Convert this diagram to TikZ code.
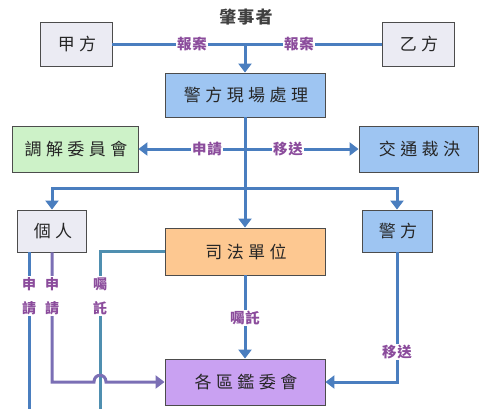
\documentclass[tikz,border=0pt]{standalone}
\usepackage{fontspec}
\usetikzlibrary{arrows.meta}
\newfontfamily\cjk[LetterSpace=26]{Noto Sans CJK TC}
\newfontfamily\cjklbl[LetterSpace=6]{Noto Sans CJK TC}
\definecolor{lnblue}{HTML}{4A7EBF}
\definecolor{lnpurple}{HTML}{7B6FB5}
\definecolor{lnteal}{HTML}{4F8FB0}
\definecolor{fgray}{HTML}{EBEBF3}
\definecolor{fblue}{HTML}{9EC5F2}
\definecolor{fgreen}{HTML}{CDF2C8}
\definecolor{forange}{HTML}{FDC891}
\definecolor{fpurple}{HTML}{C9A1F2}
\definecolor{lblcol}{HTML}{8B4C9C}
\tikzset{
  box/.style={draw=black!70, line width=0.9pt, inner sep=0pt, text=black!85,
    font=\cjk\fontsize{17}{17}\selectfont},
  conn/.style={draw=lnblue, line width=3pt},
  arr/.style={conn, -{Triangle[width=13pt,length=9pt]}},
  lbl/.style={fill=white, inner sep=1.5pt, text=lblcol, font=\cjklbl\bfseries\fontsize{14.5}{14.5}\selectfont},
  vlbl/.style={lbl, align=center, font=\cjklbl\bfseries\fontsize{14}{24}\selectfont, inner sep=1pt}
}
\begin{document}
\begin{tikzpicture}[x=1pt,y=-1pt]
\useasboundingbox (0,0) rectangle (490,408);
% boxes
\node[box, fill=fgray, minimum width=72pt, minimum height=44pt] (A) at (76,44) {\hspace{2pt}甲方};
\node[box, fill=fgray, minimum width=72pt, minimum height=44pt] (B) at (418,44) {\hspace{2pt}乙方};
\node[box, fill=fblue, minimum width=160pt, minimum height=44pt] (P) at (245,95) {\hspace{2pt}警方現場處理};
\node[box, fill=fgreen, minimum width=126pt, minimum height=46pt] (M) at (75,149) {\hspace{2pt}調解委員會};
\node[box, fill=fblue, minimum width=119pt, minimum height=46pt] (T) at (418.5,149) {\hspace{2pt}交通裁決};
\node[box, fill=fgray, minimum width=69pt, minimum height=42pt] (I) at (52,231) {\hspace{2pt}個人};
\node[box, fill=fblue, minimum width=70pt, minimum height=42pt] (Q) at (397,231) {\hspace{2pt}警方};
\node[box, fill=forange, minimum width=160pt, minimum height=47pt] (J) at (245,251.5) {\hspace{2pt}司法單位};
\node[box, fill=fpurple, minimum width=160pt, minimum height=46pt] (K) at (245,382) {\hspace{2pt}各區鑑委會};
% title
\node[font=\cjklbl\bfseries\fontsize{17}{17}\selectfont, text=black!75] (title) at (246,17) {肇事者};
% coordinates
\coordinate (top) at (245,44);
\coordinate (split) at (245,188);
\coordinate (e1) at (29,412);
\coordinate (e2) at (100,412);
\coordinate (h1) at (94,382);
\coordinate (h2) at (106,382);
% connectors
\draw[conn] (A.east) -- (B.west);
\draw[arr] (top) -- (P.north);
\draw[arr] (P.south) -- (J.north);
\draw[conn, {Triangle[width=13pt,length=9pt]}-{Triangle[width=13pt,length=9pt]}] (M.east) -- (T.west);
\draw[arr] (split) -| (I.north);
\draw[arr] (split) -| (Q.north);
\draw[arr] (J.south) -- (K.north);
\draw[arr] (Q.south) |- (K.east);
\draw[conn] ([xshift=-23pt]I.south) -- (e1);
\draw[conn, draw=lnteal] (J.west) -| (e2);
\draw[arr, draw=lnpurple] (I.south) |- (h1) .. controls (94,373) and (106,373) .. (h2) -- (K.west);
% labels
\node[lbl] (l1) at (192,44) {報案};
\node[lbl] (l2) at (299,44) {報案};
\node[lbl] (l3) at (207,149) {申請};
\node[lbl] (l4) at (288,149) {移送};
\node[lbl] (l5) at (245,318) {囑託};
\node[lbl] (l6) at (397,352) {移送};
\node[vlbl] (l7) at (29,296) {申\\請};
\node[vlbl] (l8) at (52,296) {申\\請};
\node[vlbl] (l9) at (100,296) {囑\\託};
\end{tikzpicture}
\end{document}
